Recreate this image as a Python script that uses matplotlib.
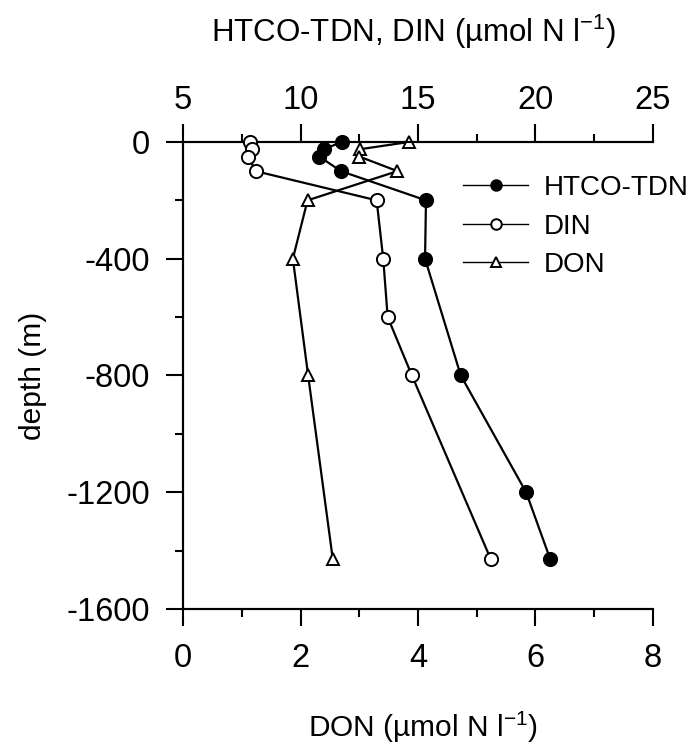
import matplotlib
matplotlib.use('Agg')
import matplotlib.pyplot as plt
from matplotlib.ticker import MultipleLocator

plt.rcParams['font.family'] = ['Liberation Sans', 'DejaVu Sans']
plt.rcParams['mathtext.default'] = 'regular'
plt.rcParams['axes.unicode_minus'] = False

# Data
tdn_depth = [0, -25, -50, -100, -200, -400, -800, -1200, -1430]
tdn = [11.75, 11.0, 10.8, 11.72, 15.34, 15.3, 16.82, 19.6, 20.63]
din_depth = [0, -25, -50, -100, -200, -400, -600, -800, -1430]
din = [7.85, 7.95, 7.78, 8.09, 13.24, 13.52, 13.71, 14.74, 18.1]
don_depth = [0, -25, -50, -100, -200, -400, -800, -1430]
don = [3.85, 3.01, 3.0, 3.65, 2.12, 1.87, 2.13, 2.55]

top_label = 'HTCO-TDN, DIN (µmol N l$^{-1}$)'
bottom_label = 'DON (µmol N l$^{-1}$)'
y_label = 'depth (m)'

TICK_FS = 23.5
LABEL_FS = 21.5
TITLE_FS = 22.5
LEG_FS = 20

fig = plt.figure(figsize=(6.94, 7.44), dpi=100)
ax = fig.add_axes([0.2637, 0.1815, 0.6772, 0.6277])
ax2 = ax.twiny()

l3, = ax.plot(don, don_depth, color='k', lw=1.6, marker='^', ms=9.2,
              mfc='white', mec='k', mew=1.4, clip_on=False, zorder=3, label='DON')
l1, = ax2.plot(tdn, tdn_depth, color='k', lw=1.6, marker='o', ms=9.5,
               mfc='k', mec='k', mew=1.4, clip_on=False, zorder=3, label='HTCO-TDN')
l2, = ax2.plot(din, din_depth, color='k', lw=1.6, marker='o', ms=9.5,
               mfc='white', mec='k', mew=1.4, clip_on=False, zorder=3, label='DIN')

ax.set_xlim(0, 8)
ax.set_ylim(-1600, 0)
ax2.set_xlim(5, 25)

for a in (ax, ax2):
    a.spines['right'].set_visible(False)
    for s in a.spines.values():
        s.set_linewidth(1.5)

ax.xaxis.set_major_locator(MultipleLocator(2))
ax.xaxis.set_minor_locator(MultipleLocator(1))
ax.yaxis.set_major_locator(MultipleLocator(400))
ax.yaxis.set_minor_locator(MultipleLocator(200))
ax2.xaxis.set_major_locator(MultipleLocator(5))
ax2.xaxis.set_minor_locator(MultipleLocator(2.5))

ax.tick_params(axis='x', which='both', top=False, direction='out', width=1.5)
ax.tick_params(axis='x', which='major', length=12.5, pad=12, labelsize=TICK_FS)
ax.tick_params(axis='x', which='minor', length=6)
ax.tick_params(axis='y', which='both', right=False, direction='out', width=1.5)
ax.tick_params(axis='y', which='major', length=12.5, pad=11, labelsize=TICK_FS)
ax.tick_params(axis='y', which='minor', length=6)
ax2.tick_params(axis='x', which='both', bottom=False, direction='out', width=1.5)
ax2.tick_params(axis='x', which='major', length=13, pad=6, labelsize=TICK_FS)
ax2.tick_params(axis='x', which='minor', length=6)

fig.text(0.596, 1 - 42 / 744, top_label, ha='center', va='baseline', fontsize=TITLE_FS)
fig.text(0.610, 1 - 737 / 744, bottom_label, ha='center', va='baseline', fontsize=LABEL_FS)
fig.text(0.048, 0.4946, y_label, ha='center', va='center', rotation=90, fontsize=LABEL_FS)

leg = ax2.legend(handles=[l1, l2, l3], loc='upper left',
                 bbox_to_anchor=(463 / 694, 1 - 175 / 744), bbox_transform=fig.transFigure,
                 frameon=False, fontsize=LEG_FS, borderpad=0, borderaxespad=0,
                 handlelength=2.35, handletextpad=0.55, labelspacing=0.45,
                 markerscale=0.8)
for line in leg.get_lines():
    line.set_linewidth(1.0)

fig.savefig('out.png', dpi=100)
